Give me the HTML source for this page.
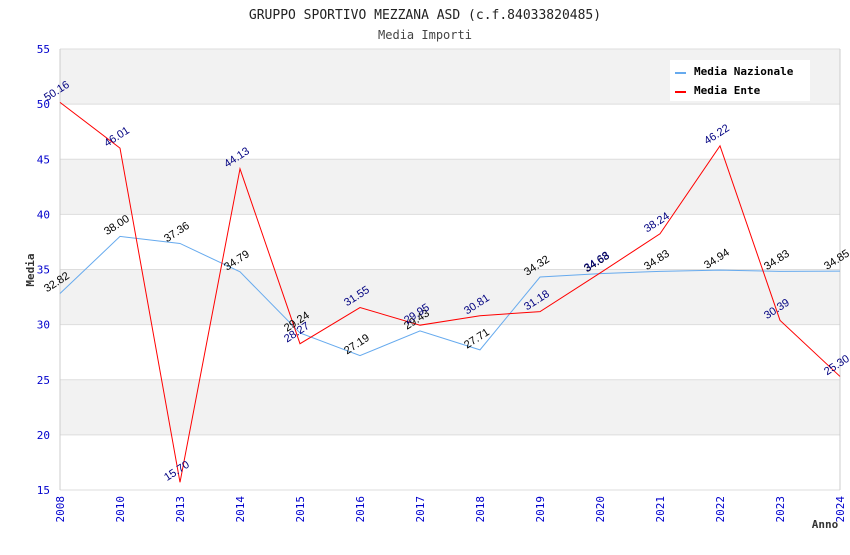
<!DOCTYPE html>
<html><head><meta charset="utf-8"><style>
body{margin:0;background:#fff;width:850px;height:550px;overflow:hidden}
svg{font-family:"DejaVu Sans Mono","Liberation Mono",monospace}
</style></head><body>
<svg id="c" width="850" height="550">
<text x="425" y="19" text-anchor="middle" font-size="13" fill="#222">GRUPPO SPORTIVO MEZZANA ASD (c.f.84033820485)</text>
<text x="425" y="39" text-anchor="middle" font-size="12" fill="#444">Media Importi</text>
<g id="grid"></g><g id="axes"></g><g id="lines"></g><g id="labels"></g>
<text x="34" y="270" transform="rotate(-90 34 270)" text-anchor="middle" font-size="11" font-weight="bold" fill="#333">Media</text>
<text x="825" y="528" text-anchor="middle" font-size="11" font-weight="bold" fill="#333">Anno</text>
<g>
<rect x="670" y="60" width="140" height="41" fill="#fff"/>
<line x1="675" y1="73" x2="686" y2="73" stroke="#66aaee" stroke-width="2"/>
<text x="694" y="75" font-size="11" font-weight="bold" fill="#000">Media Nazionale</text>
<line x1="675" y1="92" x2="686" y2="92" stroke="#ff0000" stroke-width="2"/>
<text x="694" y="94" font-size="11" font-weight="bold" fill="#000">Media Ente</text>
</g>
</svg>
<script>
const categories=["2008","2010","2013","2014","2015","2016","2017","2018","2019","2020","2021","2022","2023","2024"];
const nazionale=[32.82,38.00,37.36,34.79,29.24,27.19,29.43,27.71,34.32,34.63,34.83,34.94,34.83,34.85];
const ente=[50.16,46.01,15.70,44.13,28.27,31.55,29.95,30.81,31.18,34.68,38.24,46.22,30.39,25.30];
const yTicks=[15,20,25,30,35,40,45,50,55];
const NS="http://www.w3.org/2000/svg";
const L=60,R=840,T=49,B=490,ymin=15,ymax=55;
const xs=i=>L+i*(R-L)/(categories.length-1);
const ys=v=>B-(v-ymin)/(ymax-ymin)*(B-T);
function mk(t,a,p){const e=document.createElementNS(NS,t);for(const k in a)e.setAttribute(k,a[k]);p.appendChild(e);return e;}
const grid=document.getElementById('grid'),axes=document.getElementById('axes'),lines=document.getElementById('lines'),labels=document.getElementById('labels');
for(let i=0;i<yTicks.length-1;i++){
 if(i%2===1){const r=mk('rect',{x:L,y:ys(yTicks[i+1]),width:R-L,height:ys(yTicks[i])-ys(yTicks[i+1]),fill:'#f2f2f2'},grid);
 
 }
}
yTicks.forEach(v=>{
 const l=mk('line',{x1:L,x2:R,y1:ys(v),y2:ys(v),stroke:'#dddddd'},grid);
 
 
 const t=mk('text',{x:50,y:ys(v)+4,'text-anchor':'end','font-size':11,fill:'#0000cc'},axes);
 t.textContent=v;
 
 
});
mk('line',{x1:L,x2:L,y1:T,y2:B,stroke:'#ccc'},axes);
mk('line',{x1:R,x2:R,y1:T,y2:B,stroke:'#ccc'},axes);
categories.forEach((c,i)=>{
 const x=xs(i);
 const t=mk('text',{x:x+4,y:B+6,transform:`rotate(-90 ${x+4} ${B+6})`,'text-anchor':'end','font-size':11,fill:'#0000cc'},axes);
 t.textContent=c;
 
 
});
function series(data,color,lblColor,name){
 const p=mk('polyline',{points:data.map((v,i)=>xs(i)+','+ys(v)).join(' '),fill:'none',stroke:color,'stroke-width':1},lines);
 
 
 data.forEach((v,i)=>{
  const x=xs(i)-13,y=ys(v)-1;
  const t=mk('text',{x:x,y:y,transform:`rotate(-33 ${x} ${y})`,'font-size':11,fill:lblColor,'font-family':'"Liberation Sans",sans-serif'},labels);
  t.textContent=v.toFixed(2);
  
  
 });
}
series(nazionale,'#66aaee','#000','nazionale');
series(ente,'#ff0000','#000080','ente');
</script>
</body></html>
